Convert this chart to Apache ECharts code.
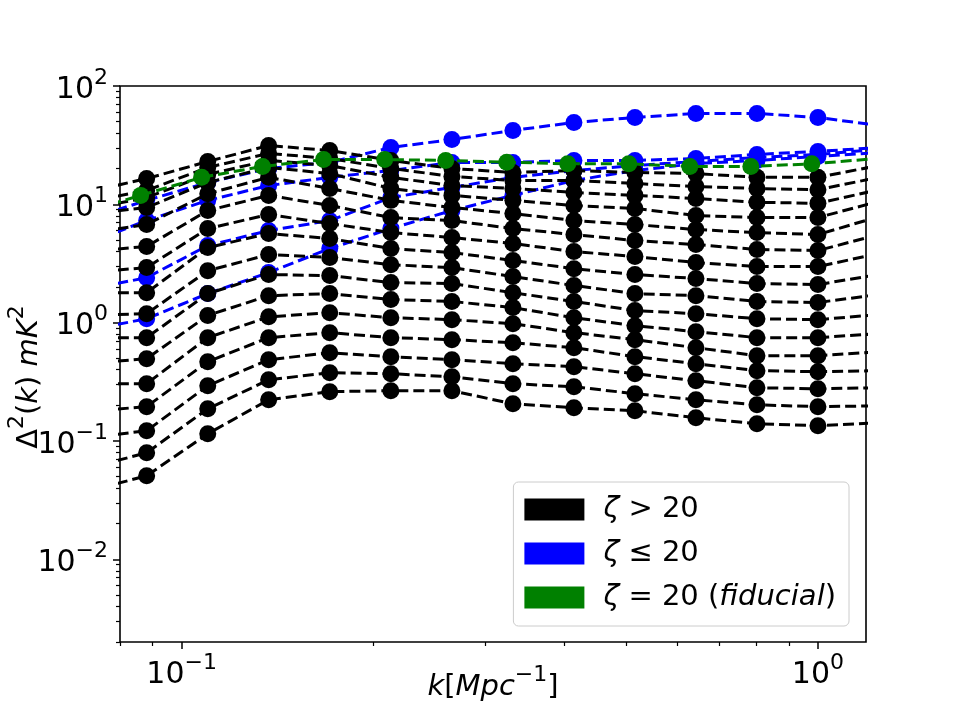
<!DOCTYPE html>
<html>
<head>
<meta charset="utf-8">
<script src="https://cdn.jsdelivr.net/npm/echarts@6/dist/echarts.min.js"></script>
<style>
html, body { margin: 0; padding: 0; background: #fff; }
#chart { width: 960px; height: 720px; }
</style>
</head>
<body>
<div id="chart"></div>
<script>
// k bins (Mpc^-1); first and last points sit just outside the visible range
var kValues = [0.0707, 0.0881, 0.1099, 0.137, 0.1709, 0.2132, 0.2659, 0.3316, 0.4135, 0.5157, 0.6431, 0.802, 1.0, 1.247];
var kFiducial = [0.0691, 0.0862, 0.1075, 0.134, 0.1671, 0.2085, 0.260, 0.3243, 0.4044, 0.5044, 0.629, 0.7844, 0.978, 1.2196];

// zeta > 20 (black), top to bottom
var blackValues = [
    [12.6, 16.5, 23.0, 31.4, 28.5, 23.5, 20.1, 18.6, 19.3, 18.6, 18.2, 16.9, 16.9, 21.3],
    [10.4, 13.1, 20.5, 26.9, 24.4, 20.1, 17.2, 15.9, 15.9, 15.0, 14.15, 13.6, 13.3, 16.9],
    [9.04, 11.4, 17.9, 23.5, 21.3, 16.9, 14.4, 13.6, 12.6, 11.9, 11.2, 10.4, 10.2, 13.3],
    [8.20, 9.40, 15.3, 20.5, 18.2, 13.6, 11.9, 10.8, 9.77, 9.22, 8.04, 7.73, 7.73, 10.6],
    [5.66, 6.75, 12.3, 16.9, 13.6, 10.8, 9.40, 8.36, 7.29, 6.75, 6.12, 5.77, 5.55, 7.88],
    [3.99, 4.40, 8.86, 11.9, 9.77, 7.73, 7.29, 6.24, 5.55, 4.94, 4.57, 4.15, 4.07, 5.55],
    [2.65, 2.92, 6.24, 8.20, 6.88, 5.77, 5.24, 4.66, 3.99, 3.62, 3.22, 2.98, 2.98, 3.84],
    [1.79, 1.79, 4.31, 5.66, 5.14, 4.23, 3.91, 3.35, 2.86, 2.55, 2.36, 2.14, 2.10, 2.55],
    [1.15, 1.19, 2.75, 3.76, 3.55, 3.09, 2.92, 2.45, 2.06, 1.76, 1.69, 1.51, 1.48, 1.73],
    [0.747, 0.747, 1.76, 2.55, 2.50, 2.18, 2.14, 1.79, 1.51, 1.264, 1.19, 1.08, 1.06, 1.17],
    [0.450, 0.496, 1.15, 1.69, 1.76, 1.57, 1.51, 1.34, 1.10, 0.943, 0.839, 0.747, 0.747, 0.807],
    [0.305, 0.305, 0.747, 1.12, 1.215, 1.10, 1.06, 0.98, 0.823, 0.718, 0.614, 0.526, 0.526, 0.568],
    [0.177, 0.195, 0.468, 0.747, 0.823, 0.747, 0.718, 0.677, 0.614, 0.516, 0.450, 0.393, 0.385, 0.393],
    [0.106, 0.122, 0.293, 0.486, 0.557, 0.516, 0.486, 0.450, 0.424, 0.370, 0.323, 0.282, 0.276, 0.282],
    [0.0582, 0.0795, 0.187, 0.329, 0.378, 0.370, 0.349, 0.305, 0.287, 0.251, 0.223, 0.202, 0.195, 0.198],
    [0.0372, 0.0508, 0.115, 0.223, 0.261, 0.266, 0.266, 0.206, 0.191, 0.180, 0.157, 0.140, 0.1345, 0.1426]
];

// zeta <= 20 (blue)
var blueValues = [
    [0.856, 1.08, 1.76, 2.65, 4.23, 6.24, 8.86, 11.9, 15.9, 19.3, 22.1, 23.5, 25.4, 27.4],
    [1.90, 2.40, 4.48, 6.0, 7.29, 11.4, 13.9, 16.9, 19.3, 21.3, 23.0, 24.9, 26.4, 29.2],
    [4.63, 7.29, 10.8, 14.4, 16.9, 19.3, 22.6, 22.6, 23.5, 23.5, 24.4, 26.4, 28.0, 30.2],
    [7.38, 10.8, 15.3, 20.1, 22.6, 30.2, 35.3, 42.1, 49.2, 54.2, 58.6, 58.6, 54.2, 46.4]
];

// zeta = 20 fiducial (green)
var greenValues = [8.36, 11.9, 16.9, 20.9, 23.9, 23.9, 23.5, 22.7, 22.0, 22.0, 20.9, 20.9, 22.0, 24.2];

var legendNames = ['ζ > 20', 'ζ ≤ 20', 'ζ = 20 (fiducial)'];
var legendColors = ['#000000', '#0000ff', '#008000'];

var xMajorTicks = [0.1, 1];
var yMajorTicks = [0.01, 0.1, 1, 10, 100];

var xRange = [0.08, 1.19];
var yRange = [0.002, 100];

function minorTicks(fromExp, toExp) {
    var out = [];
    for (var e = fromExp; e <= toExp; e++) {
        for (var m = 2; m <= 9; m++) {
            out.push(+(m * Math.pow(10, e)).toPrecision(6));
        }
    }
    return out;
}
var xMinorTicks = [0.08, 0.09].concat(minorTicks(-1, -1));
var yMinorTicks = minorTicks(-3, 1);

var FONT = "'DejaVu Sans', sans-serif";

function powerLabel(value) {
    var e = Math.round(Math.log(value) / Math.LN10);
    return '{b|10}{s|' + (e < 0 ? '\u2212' + (-e) : e) + '}';
}

var tickRich = {
    b: { fontFamily: FONT, fontSize: 30, color: '#000', lineHeight: 38, verticalAlign: 'bottom' },
    s: { fontFamily: FONT, fontSize: 22, color: '#000', lineHeight: 22, verticalAlign: 'top' }
};
var nameRich = {
    n: { fontFamily: FONT, fontSize: 29, color: '#000', lineHeight: 38, verticalAlign: 'bottom' },
    i: { fontFamily: FONT, fontSize: 29, fontStyle: 'italic', color: '#000', lineHeight: 38, verticalAlign: 'bottom' },
    s: { fontFamily: FONT, fontSize: 22, color: '#000', lineHeight: 22, verticalAlign: 'top' }
};
var legendRich = {
    n: { fontFamily: FONT, fontSize: 29, color: '#000', lineHeight: 30 },
    i: { fontFamily: FONT, fontSize: 29, fontStyle: 'italic', color: '#000', lineHeight: 30 }
};

function legendLabel(name) {
    if (name === legendNames[0]) return '{i|ζ}{n| > 20}';
    if (name === legendNames[1]) return '{i|ζ}{n| ≤ 20}';
    return '{i|ζ}{n| = 20 (}{i|fiducial}{n|)}';
}

var series = [];
// empty proxies so the legend shows plain filled boxes
legendNames.forEach(function (n, i) {
    series.push({ type: 'scatter', name: n, data: [], itemStyle: { color: legendColors[i], opacity: 1 } });
});

var zNext = 3;
function addLine(name, color, ks, vals) {
    series.push({
        type: 'line',
        name: name,
        silent: true,
        z: zNext++,
        clip: true,
        data: ks.map(function (k, i) { return [k, vals[i]]; }),
        symbol: 'circle',
        symbolSize: 17,
        showAllSymbol: true,
        itemStyle: { color: color, borderWidth: 0 },
        lineStyle: { color: color, width: 3, type: [11, 5] }
    });
}
blueValues.forEach(function (v) { addLine(legendNames[1], legendColors[1], kValues, v); });
blackValues.forEach(function (v) { addLine(legendNames[0], legendColors[0], kValues, v); });
addLine(legendNames[2], legendColors[2], kFiducial, greenValues);

var chart = echarts.init(document.getElementById('chart'), null, { renderer: 'canvas' });
chart.setOption({
    animation: false,
    backgroundColor: '#ffffff',
    grid: {
        left: 120, top: 86, right: 94, bottom: 78,
        show: true, borderColor: '#000', borderWidth: 1.6,
        containLabel: false, outerBoundsMode: 'none'
    },
    legend: {
        data: legendNames,
        orient: 'vertical',
        right: 111, bottom: 94,
        icon: 'rect',
        itemWidth: 60, itemHeight: 22, itemGap: 15,
        padding: [13, 13, 14, 11],
        backgroundColor: 'rgba(255,255,255,0.8)',
        borderColor: '#cccccc', borderWidth: 1, borderRadius: 5,
        selectedMode: false,
        z: 100,
        formatter: legendLabel,
        itemStyle: { opacity: 1 },
        textStyle: { fontFamily: FONT, fontSize: 29, color: '#000', padding: [0, 0, 0, 14], rich: legendRich }
    },
    xAxis: [{
        type: 'log', min: xRange[0], max: xRange[1], position: 'bottom',
        axisLine: { show: false }, splitLine: { show: false },
        axisTick: { show: true, inside: false, length: 7, lineStyle: { color: '#000', width: 1.5 }, customValues: xMajorTicks },
        axisLabel: { customValues: xMajorTicks, formatter: powerLabel, margin: 10, color: '#000', rich: tickRich },
        name: '{i|k}{n|[}{i|Mpc}{s|\u22121}{n|]}',
        nameLocation: 'middle', nameGap: 22, nameMoveOverlap: false,
        nameTextStyle: { rich: nameRich }
    }, {
        type: 'log', min: xRange[0], max: xRange[1], position: 'bottom',
        axisLine: { show: false }, splitLine: { show: false }, axisLabel: { show: false },
        axisTick: { show: true, inside: false, length: 4, lineStyle: { color: '#000', width: 1.2 }, customValues: xMinorTicks }
    }],
    yAxis: [{
        type: 'log', min: yRange[0], max: yRange[1], position: 'left',
        axisLine: { show: false }, splitLine: { show: false },
        axisTick: { show: true, inside: false, length: 7, lineStyle: { color: '#000', width: 1.5 }, customValues: yMajorTicks },
        axisLabel: { customValues: yMajorTicks, formatter: powerLabel, margin: 12, color: '#000', rich: tickRich },
        name: '{n|Δ}{s|2}{n|(}{i|k}{n|) }{i|mK}{s|2}',
        nameLocation: 'middle', nameRotate: 90, nameGap: 76, nameMoveOverlap: false,
        nameTextStyle: { rich: nameRich, padding: [0, 26, 0, 0] }
    }, {
        type: 'log', min: yRange[0], max: yRange[1], position: 'left',
        axisLine: { show: false }, splitLine: { show: false }, axisLabel: { show: false },
        axisTick: { show: true, inside: false, length: 4, lineStyle: { color: '#000', width: 1.2 }, customValues: yMinorTicks }
    }],
    series: series
});
</script>
</body>
</html>
